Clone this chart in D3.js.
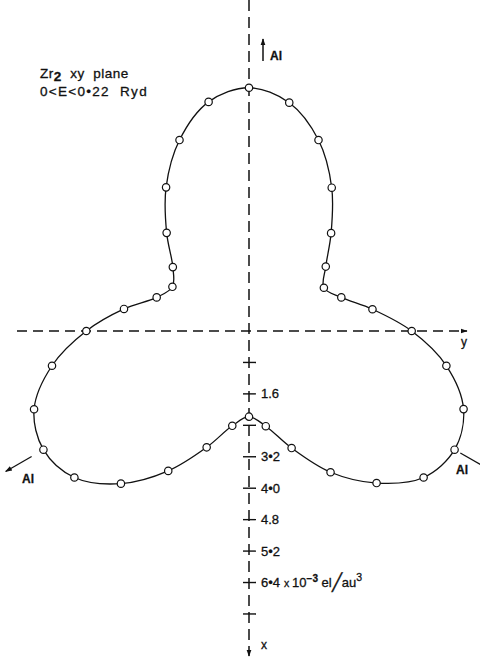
<!DOCTYPE html>
<html>
<head>
<meta charset="utf-8">
<script src="https://cdn.jsdelivr.net/npm/d3@7"></script>
<style>
  html, body { margin: 0; padding: 0; background: #fff; }
  svg { display: block; }
  text { font-family: "Liberation Sans", Arial, sans-serif; fill: #111; stroke: #111; stroke-width: 0.3; }
</style>
</head>
<body>
<svg id="chart" width="480" height="658"></svg>
<script>
// Directions in the xy plane, degrees clockwise from the upward Al direction (-x)
const angles = [-180, -170, -160, -150, -140, -130, -120, -110, -100, -90,
                -80, -70, -60, -50, -40, -30, -20, -10,
                0, 10, 20, 30, 40, 50, 60, 70, 80, 90,
                100, 110, 120, 130, 140, 150, 160, 170];
// Charge density along each direction, 10^-3 el/au^3
const density = [2.18, 2.45, 3.15, 4.11, 5.07, 5.80, 6.04, 5.82, 5.09, 4.14,
                 3.23, 2.50, 2.25, 2.53, 3.26, 4.22, 5.17, 5.92,
                 6.19, 5.90, 5.17, 4.21, 3.25, 2.55, 2.20, 2.50, 3.19, 4.14,
                 5.10, 5.81, 6.04, 5.80, 5.05, 4.15, 3.17, 2.46];
// Scale ticks along +x (downward)
const tickValues = [0.8, 1.6, 2.4, 3.2, 4.0, 4.8, 5.6, 6.4, 7.2];
const tickLabels = ["", "1.6", "", "3\u20222", "4\u20220", "4.8", "5\u20222", "6\u20224", ""];
// Neighbouring Al directions
const alAngles = [-120, 120];

const svg = d3.select("#chart");
const cx = 249, cy = 331;
const r = d3.scaleLinear().domain([0, 1]).range([0, 39.3]);
const toRad = d => d * Math.PI / 180;

const defs = svg.append("defs");
defs.append("marker")
  .attr("id", "arrow")
  .attr("viewBox", "0 0 10 10")
  .attr("refX", 9).attr("refY", 5)
  .attr("markerWidth", 7).attr("markerHeight", 7)
  .attr("markerUnits", "userSpaceOnUse")
  .attr("orient", "auto")
  .append("path")
  .attr("d", "M0,1.5 L10,5 L0,8.5 Z")
  .attr("fill", "#111");

const g = svg.append("g").attr("transform", `translate(${cx},${cy})`);

// Dashed axes
g.append("line")
  .attr("x1", 0).attr("y1", -cy).attr("x2", 0).attr("y2", 325)
  .attr("stroke", "#111").attr("stroke-width", 1.5)
  .attr("stroke-dasharray", "11,6")
  .attr("marker-end", "url(#arrow)");
g.append("line")
  .attr("x1", 17 - cx).attr("y1", 0).attr("x2", 218).attr("y2", 0)
  .attr("stroke", "#111").attr("stroke-width", 1.5)
  .attr("stroke-dasharray", "10,6")
  .attr("marker-end", "url(#arrow)");

g.append("text").attr("x", 212).attr("y", 15).attr("font-size", 12).text("y");
g.append("text").attr("x", 12).attr("y", 318).attr("font-size", 12).text("x");

// Scale ticks on the x axis
const ticks = g.selectAll("g.tick").data(tickValues).enter().append("g")
  .attr("class", "tick")
  .attr("transform", d => `translate(0,${r(d)})`);
ticks.append("line")
  .attr("x1", -6).attr("x2", 7)
  .attr("stroke", "#111").attr("stroke-width", 1.4);
ticks.append("text")
  .attr("x", 12).attr("y", 4.6)
  .attr("font-size", 13)
  .text((d, i) => tickLabels[i]);

// Unit next to the 6.4 tick
const unit = g.append("text")
  .attr("x", 12 + 20).attr("y", r(6.4) + 4.6)
  .attr("font-size", 13)
  .attr("xml:space", "preserve");
unit.append("tspan").attr("font-size", 10.5).text(" x ");
unit.append("tspan").text("10");
unit.append("tspan").attr("dy", -5.5).attr("font-size", 10).attr("font-weight", "bold").text("\u22123");
unit.append("tspan").attr("dy", 5.5).text(" el");
unit.append("tspan").attr("font-size", 17).attr("dy", 1).text("\u2571");
unit.append("tspan").attr("dy", -1).text("au");
unit.append("tspan").attr("dy", -6).attr("font-size", 10.5).text("3");

// Density contour
const pts = angles.map((a, i) => ({ a: toRad(a), v: density[i] }));
const contour = d3.lineRadial()
  .angle(d => d.a)
  .radius(d => r(d.v))
  .curve(d3.curveCatmullRomClosed.alpha(0.5));
g.append("path")
  .datum(pts)
  .attr("d", contour)
  .attr("fill", "none")
  .attr("stroke", "#111")
  .attr("stroke-width", 1.3);

g.selectAll("circle.pt").data(pts).enter().append("circle")
  .attr("class", "pt")
  .attr("cx", d => r(d.v) * Math.sin(d.a))
  .attr("cy", d => -r(d.v) * Math.cos(d.a))
  .attr("r", 3.7)
  .attr("fill", "#fff")
  .attr("stroke", "#111")
  .attr("stroke-width", 1.2);

// Al directions
g.append("line")
  .attr("x1", 14).attr("y1", -270).attr("x2", 14).attr("y2", -292)
  .attr("stroke", "#111").attr("stroke-width", 1.5)
  .attr("marker-end", "url(#arrow)");
g.append("text").attr("x", 21).attr("y", -271).attr("font-size", 12).attr("font-weight", "bold").text("Al");

alAngles.forEach(a => {
  const t = toRad(a);
  const r0 = a < 0 ? 251 : 244, r1 = a < 0 ? 281 : 290;
  g.append("line")
    .attr("x1", r0 * Math.sin(t)).attr("y1", -r0 * Math.cos(t))
    .attr("x2", r1 * Math.sin(t)).attr("y2", -r1 * Math.cos(t))
    .attr("stroke", "#111").attr("stroke-width", 1.3)
    .attr("marker-end", "url(#arrow)");
});
g.append("text").attr("x", 22 - cx).attr("y", 483 - cy).attr("font-size", 12).attr("font-weight", "bold").text("Al");
g.append("text").attr("x", 456 - cx).attr("y", 474 - cy).attr("font-size", 12).attr("font-weight", "bold").text("Al");

// Caption
const cap1 = svg.append("text").attr("x", 40).attr("y", 78).attr("font-size", 13.5).attr("letter-spacing", 0.5)
  .attr("xml:space", "preserve");
cap1.append("tspan").text("Zr");
cap1.append("tspan").attr("dy", 3).attr("font-weight", "bold").text("2");
cap1.append("tspan").attr("dy", -3).text("  xy  plane");
svg.append("text").attr("x", 40).attr("y", 96).attr("font-size", 13.5).attr("letter-spacing", 1.3)
  .attr("xml:space", "preserve")
  .text("0<E<0\u202222  Ryd");
</script>
</body>
</html>
